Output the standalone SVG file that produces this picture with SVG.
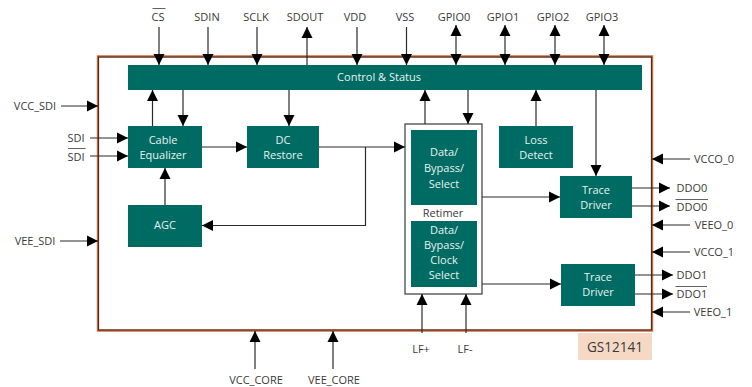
<svg xmlns="http://www.w3.org/2000/svg" width="752" height="387" viewBox="0 0 752 387">
<defs>
<marker id="a" markerUnits="userSpaceOnUse" markerWidth="12" markerHeight="12" refX="11" refY="6" orient="auto-start-reverse"><path d="M0 0.5L11 6L0 11.5Z" fill="#000"/></marker>
</defs>
<style>
text{font-family:"Open Sans","Noto Sans","Liberation Sans",sans-serif;font-size:11px;text-anchor:middle;fill:#3a3a3a}
.b{fill:#006b63}
.w{fill:#e6f2f0}
.l{fill:none;stroke:#2a2a2a;stroke-width:1.2}
.e{marker-end:url(#a)}
.d{marker-start:url(#a);marker-end:url(#a)}
.o{fill:none;stroke:#3a3a3a;stroke-width:0.8}
</style>
<rect id="frame" x="98" y="56.5" width="554" height="274" fill="#fff" stroke="#c8643a" stroke-width="2.4"/>
<rect x="98.5" y="57" width="553" height="273" fill="none" stroke="#3a2a22" stroke-width="0.9"/>
<g id="control"><rect class="b" x="128" y="65" width="514" height="25"/><text class="w" x="379" y="81">Control &amp; Status</text></g>
<g id="equalizer"><rect class="b" x="128" y="126" width="74" height="42"/><text class="w" x="163" y="144">Cable</text><text class="w" x="163" y="159">Equalizer</text></g>
<g id="dcrestore"><rect class="b" x="247" y="126" width="72" height="42"/><text class="w" x="283" y="144">DC</text><text class="w" x="283" y="159">Restore</text></g>
<g id="agc"><rect class="b" x="128" y="205" width="74" height="42"/><text class="w" x="165" y="229">AGC</text></g>
<g id="retimer"><rect x="405" y="124" width="77" height="170" fill="#fff" stroke="#3a3a3a" stroke-width="1.2"/><text x="443" y="217">Retimer</text></g>
<g id="select1"><rect class="b" x="411" y="130" width="66" height="75"/><text class="w" x="444" y="156">Data/</text><text class="w" x="444" y="172">Bypass/</text><text class="w" x="444" y="188">Select</text></g>
<g id="select2"><rect class="b" x="411" y="221" width="66" height="66"/><text class="w" x="444" y="234">Data/</text><text class="w" x="444" y="249">Bypass/</text><text class="w" x="444" y="264">Clock</text><text class="w" x="444" y="279">Select</text></g>
<g id="loss"><rect class="b" x="499" y="126" width="74" height="42"/><text class="w" x="536" y="144">Loss</text><text class="w" x="536" y="159">Detect</text></g>
<g id="trace0"><rect class="b" x="560" y="176" width="72" height="42"/><text class="w" x="596" y="194">Trace</text><text class="w" x="596" y="209">Driver</text></g>
<g id="trace1"><rect class="b" x="561" y="264" width="74" height="42"/><text class="w" x="598" y="281">Trace</text><text class="w" x="598" y="296">Driver</text></g>
<g id="part"><rect x="578" y="333" width="74" height="27" fill="#f5d9c5"/><text x="615" y="352" style="font-size:15px" textLength="56" lengthAdjust="spacingAndGlyphs">GS12141</text></g>
<g id="connectors">
<path class="l e" d="M159 27V65"/><path class="l e" d="M208 27V65"/><path class="l e" d="M257 27V65"/><path class="l e" d="M307 65V27"/><path class="l e" d="M357 27V65"/><path class="l e" d="M406.500 27V65"/>
<path class="l d" d="M456 25V65"/><path class="l d" d="M505 25V65"/><path class="l d" d="M555 25V65"/><path class="l d" d="M604 25V65"/>
<path class="l e" d="M61 106H98"/><path class="l e" d="M90 138H128"/><path class="l e" d="M90 156H128"/><path class="l e" d="M60 241H98"/>
<path class="l e" d="M152.500 126V90"/><path class="l e" d="M183 90V126"/><path class="l e" d="M289 90V126"/><path class="l e" d="M202 147H247"/>
<path class="l e" d="M319 147H405"/><path class="l e" d="M365.500 147V225.500H202"/><path class="l e" d="M165 205V168"/>
<path class="l e" d="M425 124V90"/><path class="l e" d="M468 90V124"/><path class="l e" d="M536 126V90"/><path class="l e" d="M596 90V176"/>
<path class="l e" d="M482 197H560"/><path class="l e" d="M482 284H561"/>
<path class="l e" d="M632 188H670"/><path class="l e" d="M632 206H670"/><path class="l e" d="M635 275H673"/><path class="l e" d="M635 294H673"/>
<path class="l e" d="M690 159H652"/><path class="l e" d="M690 225H652"/><path class="l e" d="M690 252H652"/><path class="l e" d="M690 312H652"/>
<path class="l e" d="M422 333V294"/><path class="l e" d="M466 333V294"/><path class="l e" d="M255 369V331"/><path class="l e" d="M333 369V331"/>
</g>
<g id="labels">
<text x="158" y="21">CS</text><path class="o" d="M152.500 8.500H165.500"/>
<text x="207" y="21">SDIN</text><text x="256" y="21">SCLK</text><text x="305" y="21">SDOUT</text><text x="355" y="21">VDD</text><text x="405" y="21">VSS</text>
<text x="454" y="21">GPIO0</text><text x="503" y="21">GPIO1</text><text x="553" y="21">GPIO2</text><text x="602" y="21">GPIO3</text>
<text x="35" y="110">VCC_SDI</text><text x="76" y="142">SDI</text><text x="76" y="161">SDI</text><path class="o" d="M68 148.500H85.500"/><text x="35" y="245">VEE_SDI</text>
<text x="714" y="163">VCCO_0</text><text x="714" y="229">VEEO_0</text><text x="714" y="256">VCCO_1</text><text x="713" y="316">VEEO_1</text>
<text x="692" y="192">DDO0</text><text x="692" y="211">DDO0</text><path class="o" d="M675.500 199.500H708"/>
<text x="692" y="279">DDO1</text><text x="692" y="298">DDO1</text><path class="o" d="M675.500 286.500H707"/>
<text x="421" y="353">LF+</text><text x="465" y="353">LF-</text><text x="256" y="384">VCC_CORE</text><text x="334" y="384">VEE_CORE</text>
</g>
</svg>
